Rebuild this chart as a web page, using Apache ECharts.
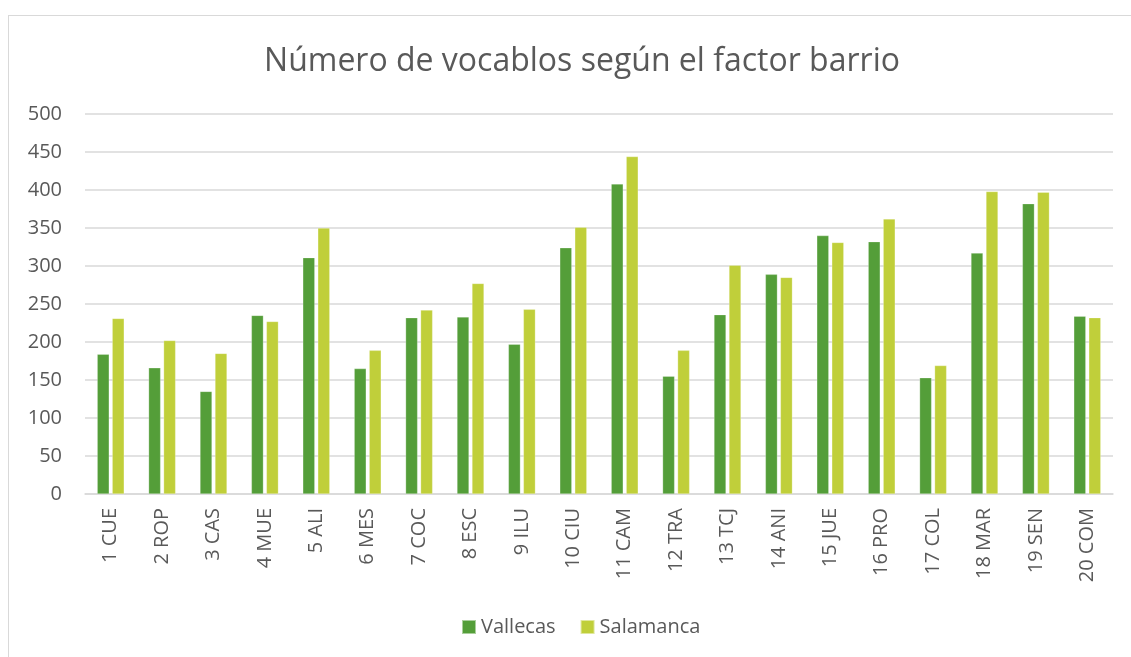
<!DOCTYPE html>
<html>
<head>
<meta charset="utf-8">
<script src="https://cdn.jsdelivr.net/npm/echarts@6/dist/echarts.min.js"></script>
<style>
  html, body { margin: 0; padding: 0; background: #fff; }
  #chart { width: 1131px; height: 657px; }
  .frame { position: absolute; left: 8px; top: 15px; width: 1140px; height: 660px; border: 1px solid #d9d9d9; pointer-events: none; }
</style>
</head>
<body>
<div id="chart"></div>
<div class="frame"></div>
<script>
var categories = ['1 CUE', '2 ROP', '3 CAS', '4 MUE', '5 ALI', '6 MES', '7 COC', '8 ESC', '9 ILU', '10 CIU',
  '11 CAM', '12 TRA', '13 TCJ', '14 ANI', '15 JUE', '16 PRO', '17 COL', '18 MAR', '19 SEN', '20 COM']
var vallecas = [184, 166, 135, 235, 311, 165, 232, 233, 197, 324, 408, 155, 236, 289, 340, 332, 153, 317, 382, 234]
var salamanca = [231, 202, 185, 227, 350, 189, 242, 277, 243, 351, 444, 189, 301, 285, 331, 362, 169, 398, 397, 232]

var textColor = '#595959'
var font = '"Open Sans", "Noto Sans", sans-serif'

var chart = echarts.init(document.getElementById('chart'))
var option = {
  animation: false,
  title: {
    text: 'Número de vocablos según el factor barrio',
    left: 577,
    top: 41,
    textAlign: 'center',
    textStyle: { color: textColor, fontSize: 32, fontWeight: 'normal', fontFamily: font }
  },
  legend: {
    bottom: 15,
    left: 456,
    itemWidth: 14,
    itemHeight: 14,
    itemGap: 24,
    icon: 'rect',
    textStyle: { color: textColor, fontSize: 20, fontFamily: font },
    data: ['Vallecas', 'Salamanca']
  },
  grid: { left: 85, right: 18, top: 114, bottom: 163 },
  xAxis: {
    type: 'category',
    data: categories,
    axisTick: { show: false },
    axisLine: { lineStyle: { color: '#d9d9d9', width: 1.5 } },
    axisLabel: { color: textColor, fontSize: 20, fontFamily: font, rotate: 90, interval: 0, margin: 14 }
  },
  yAxis: {
    type: 'value',
    min: 0,
    max: 500,
    interval: 50,
    axisLine: { show: false },
    axisTick: { show: false },
    axisLabel: { color: textColor, fontSize: 20, fontFamily: font, margin: 23 },
    splitLine: { lineStyle: { color: '#d9d9d9', width: 1.5 } }
  },
  series: [
    {
      name: 'Vallecas',
      type: 'bar',
      data: vallecas,
      barWidth: 12,
      barGap: '25%',
      itemStyle: { color: '#549e39', borderColor: 'rgba(255,255,255,0.5)', borderWidth: 0.5 }
    },
    {
      name: 'Salamanca',
      type: 'bar',
      data: salamanca,
      barWidth: 12,
      barGap: '25%',
      itemStyle: { color: '#c0cf3a', borderColor: 'rgba(255,255,255,0.5)', borderWidth: 0.5 }
    }
  ]
}
chart.setOption(option)
</script>
</body>
</html>
